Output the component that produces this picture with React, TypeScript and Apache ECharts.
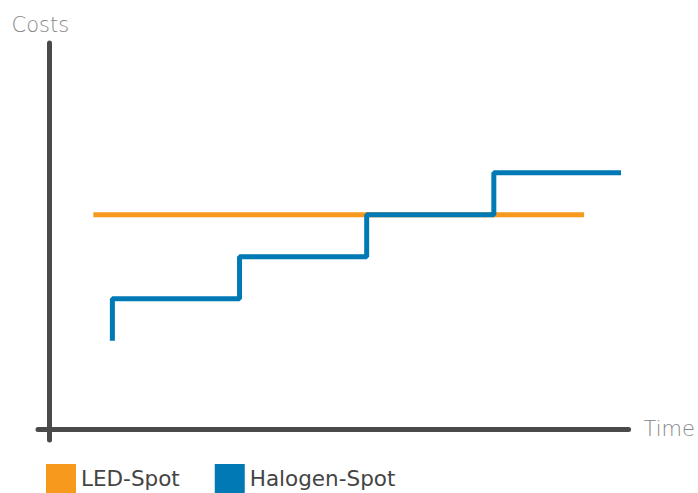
import React, { useEffect, useRef } from "react";
import * as echarts from "echarts";

const seriesNames = ["LED-Spot", "Halogen-Spot"];
const ledTimes = [3.5, 42.1];
const ledCosts = [51, 51];
const halogenTimes = [5, 15, 25, 35, 45];
const halogenCosts = [21, 31, 41, 51, 61];
const colors = ["#F7991C", "#0079B5"];
const axisNames = { x: "Time", y: "Costs" };

export default function App() {
  const ref = useRef<HTMLDivElement>(null);
  useEffect(() => {
    if (!ref.current) return;
    const chart = echarts.init(ref.current, null, { renderer: "svg" });
    const axisLine = { show: true, onZero: true, lineStyle: { color: "#4a4a4a", width: 5 } };
    const nameStyle = { color: "#868686", fontSize: 21, fontFamily: "DejaVu Sans", fontWeight: 200 };
    chart.setOption({
      animation: false,
      grid: { left: 38, right: 69, top: 43, bottom: 53 },
      legend: {
        data: seriesNames,
        left: 46,
        top: 464,
        padding: 0,
        icon: "rect",
        itemWidth: 30,
        itemHeight: 29,
        itemGap: 35,
        selectedMode: false,
        textStyle: { color: "#444444", fontSize: 21.5, fontFamily: "DejaVu Sans", fontWeight: 500 },
      },
      xAxis: {
        type: "value",
        min: -0.85,
        max: 45.6,
        name: axisNames.x,
        nameLocation: "end",
        nameGap: 15,
        nameTextStyle: nameStyle,
        axisLine,
        axisTick: { show: false },
        axisLabel: { show: false },
        splitLine: { show: false },
      },
      yAxis: {
        type: "value",
        min: -2.62,
        max: 91.9,
        name: axisNames.y,
        nameLocation: "end",
        nameGap: 8,
        nameTextStyle: { ...nameStyle, padding: [0, 17, 0, 0] },
        axisLine,
        axisTick: { show: false },
        axisLabel: { show: false },
        splitLine: { show: false },
      },
      series: [
        {
          name: seriesNames[0],
          type: "line",
          data: ledTimes.map((t, i) => [t, ledCosts[i]]),
          showSymbol: false,
          symbol: "none",
          lineStyle: { color: colors[0], width: 5 },
          itemStyle: { color: colors[0] },
        },
        {
          name: seriesNames[1],
          type: "line",
          step: "start",
          data: halogenTimes.map((t, i) => [t, halogenCosts[i]]),
          showSymbol: false,
          symbol: "none",
          lineStyle: { color: colors[1], width: 5 },
          itemStyle: { color: colors[1] },
        },
      ],
    });
    return () => chart.dispose();
  }, []);
  return <div ref={ref} style={{ width: 698, height: 493, position: "absolute", left: 0, top: 0 }} />;
}
